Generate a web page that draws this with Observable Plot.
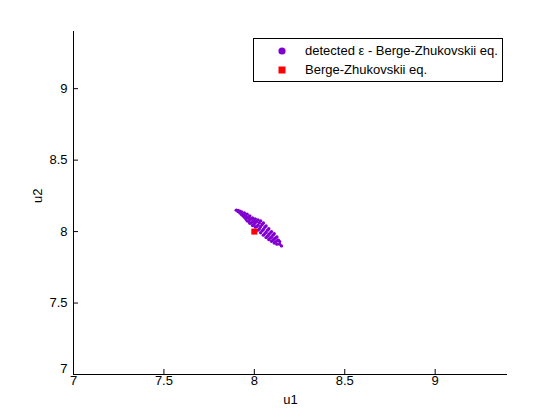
<!DOCTYPE html>
<html><head><meta charset="utf-8">
<script src="https://cdn.jsdelivr.net/npm/d3@7"></script>
<script src="https://cdn.jsdelivr.net/npm/@observablehq/plot@0.6"></script>
<style>
body{margin:0;background:#fff;}
#wrap{position:relative;width:560px;height:420px;font-family:"Liberation Sans",Arial,sans-serif;background:#fff;}
#legend{position:absolute;left:253px;top:38px;width:248px;height:42px;border:1px solid #000;background:#fff;font-size:13px;color:#000;}
#legend .row{position:absolute;left:0;height:18px;line-height:18px;white-space:nowrap;}
#legend svg{position:absolute;left:20px;top:4px;}
#legend span{position:absolute;left:51px;}
</style></head>
<body><div id="wrap"></div>
<script>
const u1 = [7.900,7.910,7.910,7.920,7.920,7.930,7.930,7.930,7.945,7.945,7.945,7.960,7.960,7.960,7.975,7.975,7.975,7.990,7.990,7.990,8.005,8.005,8.005,8.020,8.020,8.020,8.035,8.035,8.035,8.050,8.050,8.050,8.065,8.065,8.065,8.080,8.080,8.080,8.095,8.095,8.095,8.110,8.110,8.110,8.125,8.125,8.125,8.140,8.140,8.150,
7.953,7.953,7.968,7.968,7.983,7.983,7.998,7.998,8.013,8.013,8.028,8.028,8.043,8.043,8.058,8.058,8.073,8.073,8.088,8.088,8.103,8.103,8.118,8.118,8.133,7.938,7.938];
const u2 = [8.150,8.148,8.140,8.142,8.130,8.138,8.128,8.118,8.130,8.115,8.100,8.122,8.098,8.075,8.110,8.085,8.058,8.095,8.070,8.042,8.088,8.062,8.032,8.082,8.045,8.010,8.075,8.035,7.992,8.060,8.015,7.975,8.040,7.995,7.958,8.020,7.980,7.945,8.000,7.962,7.932,7.985,7.950,7.920,7.962,7.935,7.912,7.930,7.912,7.900,
8.110,8.088,8.100,8.072,8.090,8.060,8.078,8.050,8.070,8.035,8.062,8.020,8.050,8.005,8.030,7.985,8.010,7.968,7.990,7.955,7.975,7.940,7.955,7.928,7.940,8.125,8.110];
const eqU1 = [8.0];
const eqU2 = [8.0];
const xTicks = [7, 7.5, 8, 8.5, 9];
const yTicks = [7, 7.5, 8, 8.5, 9];
const legendLabels = ["detected \u03b5 - Berge-Zhukovskii eq.", "Berge-Zhukovskii eq."];
const xLabel = "u1", yLabel = "u2";

const detected = u1.map((x, i) => ({u1: x, u2: u2[i]}));
const eq = eqU1.map((x, i) => ({u1: x, u2: eqU2[i]}));
const purple = "#8000d0", red = "#ff0000";
const W = 560, H = 420, mt = 31, mb = 46, ml = 73, mr = 53;

const chart = Plot.plot({
  width: W, height: H, marginTop: mt, marginBottom: mb, marginLeft: ml, marginRight: mr,
  style: {fontFamily: '"Liberation Sans", Arial, sans-serif', fontSize: "13px", color: "#000", background: "#fff"},
  x: {domain: [7, 9.4]},
  y: {domain: [7, 9.4]},
  marks: [
    Plot.axisX({ticks: xTicks, tickSize: 0, tickPadding: 1, tickFormat: d => String(d), label: null}),
    Plot.axisY({ticks: yTicks.slice(1), tickSize: 0, tickPadding: 6, tickFormat: d => String(d), label: null}),
    Plot.axisY({ticks: yTicks.slice(0, 1), tickSize: 0, tickPadding: 6, dy: -6, tickFormat: d => String(d), label: null}),
    Plot.tickX(xTicks, {x: d => d, insetTop: H - mt - mb - 5, stroke: "#000"}),
    Plot.tickY(yTicks, {y: d => d, insetRight: W - ml - mr - 5, stroke: "#000"}),
    Plot.ruleX([7], {stroke: "#000"}),
    Plot.ruleY([7], {stroke: "#000"}),
    Plot.dot(detected, {x: "u1", y: "u2", r: 1.7, fill: purple, stroke: null}),
    Plot.dot(eq, {x: "u1", y: "u2", symbol: "square", r: 3.4, fill: red, stroke: null}),
    Plot.text([xLabel], {text: d => d, frameAnchor: "bottom", dy: 29, fill: "#000"}),
    Plot.text([yLabel], {text: d => d, frameAnchor: "left", dx: -36, rotate: -90, fill: "#000"})
  ]
});
const wrap = document.getElementById("wrap");
wrap.appendChild(chart);

const leg = document.createElement("div");
leg.id = "legend";
const syms = [
  `<svg width="16" height="10"><circle cx="8" cy="5" r="3.6" fill="${purple}"/></svg>`,
  `<svg width="16" height="10"><rect x="4.5" y="1.5" width="7" height="7" fill="${red}"/></svg>`
];
legendLabels.forEach((t, i) => {
  const row = document.createElement("div");
  row.className = "row";
  row.style.top = (3 + i * 19) + "px";
  row.style.width = "248px";
  row.innerHTML = syms[i] + `<span>${t}</span>`;
  leg.appendChild(row);
});
wrap.appendChild(leg);
</script>
</body></html>
